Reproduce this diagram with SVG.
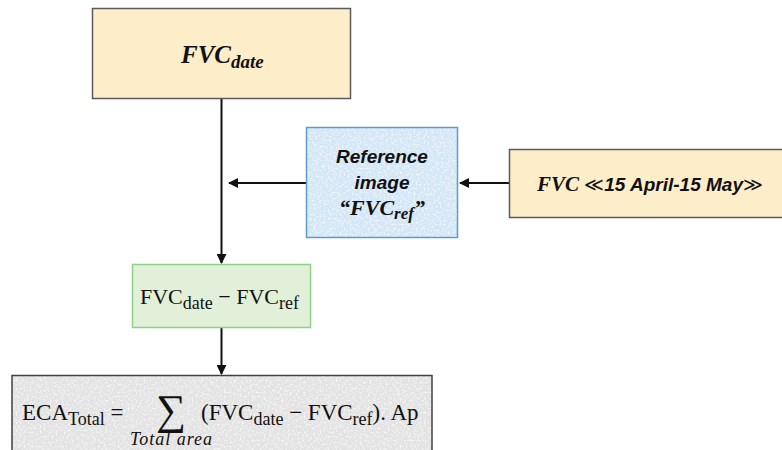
<svg xmlns="http://www.w3.org/2000/svg" width="782" height="450" viewBox="0 0 782 450">
<defs>
<style>
.serif{font-family:"Liberation Serif","DejaVu Serif",serif;fill:#111}
.bi{font-weight:bold;font-style:italic}
.sans{font-family:"Liberation Sans","Open Sans",sans-serif;font-weight:bold;font-style:italic;fill:#111}
.edge{stroke:#111;stroke-width:2;fill:none}
</style>
<marker id="ah" viewBox="0 0 10 10" refX="9" refY="5" markerWidth="5" markerHeight="5" orient="auto">
<path d="M0,0 L10,5 L0,10 z" fill="#111"/>
</marker>
<filter id="tex" x="0" y="0" width="1" height="1">
<feTurbulence type="fractalNoise" baseFrequency="0.5" numOctaves="3" seed="3" result="n"/>
<feColorMatrix in="n" type="matrix" values="0 0 0 0 1  0 0 0 0 1  0 0 0 0 1  0 0 0 -2 1.1" result="w"/>
<feComposite in="w" in2="SourceGraphic" operator="in" result="wc"/>
<feMerge><feMergeNode in="SourceGraphic"/><feMergeNode in="wc"/></feMerge>
</filter>
</defs>

<g id="connectors">
<line class="edge" x1="221.5" y1="99" x2="221.5" y2="263" marker-end="url(#ah)"/>
<line class="edge" x1="306" y1="183" x2="229" y2="183" marker-end="url(#ah)"/>
<line class="edge" x1="509" y1="183" x2="460" y2="183" marker-end="url(#ah)"/>
<line class="edge" x1="221.5" y1="328" x2="221.5" y2="374" marker-end="url(#ah)"/>
</g>

<g id="node-fvc-date">
<rect x="92.5" y="8.5" width="258" height="90" fill="#fdedc9" stroke="#5a5a5a" stroke-width="1.5"/>
<text class="serif bi" x="181" y="63" font-size="25">FVC<tspan font-size="19" dy="5">date</tspan></text>
</g>

<g id="node-reference">
<rect x="306.5" y="127.5" width="151" height="110" fill="#d3e6f6" filter="url(#tex)"/>
<rect x="306.5" y="127.5" width="151" height="110" fill="none" stroke="#5b9bd5" stroke-width="1.5"/>
<text class="sans" x="382" y="163" font-size="19" text-anchor="middle">Reference</text>
<text class="sans" x="382" y="189" font-size="19" text-anchor="middle">image</text>
<text class="serif bi" x="382" y="215" font-size="22" text-anchor="middle">“FVC<tspan font-size="17" dy="4">ref</tspan><tspan dy="-4">”</tspan></text>
</g>

<g id="node-period">
<rect x="509.5" y="149.5" width="280" height="68" fill="#fdedc9" stroke="#5a5a5a" stroke-width="1.5"/>
<text x="537" y="191" font-size="19"><tspan class="serif bi" font-size="21">FVC </tspan><tspan class="serif" font-size="19">≪</tspan><tspan class="sans">15 April-15 May</tspan><tspan class="serif" font-size="19">≫</tspan></text>
</g>

<g id="node-difference">
<rect x="132.5" y="264.5" width="178" height="63" fill="#e2f0d9" stroke="#8fd08a" stroke-width="1.5"/>
<text class="serif" x="140" y="304" font-size="22">FVC<tspan font-size="18" dy="5">date</tspan><tspan dy="-5"> − FVC</tspan><tspan font-size="18" dy="5">ref</tspan></text>
</g>

<g id="node-eca">
<rect x="12" y="375.5" width="420" height="80" fill="#e2e2e2" filter="url(#tex)"/>
<rect x="12" y="375.5" width="420" height="80" fill="none" stroke="#404040" stroke-width="1.5"/>
<text class="serif" x="22" y="420" font-size="23">ECA<tspan font-size="18" dy="5">Total</tspan><tspan dy="-5"> =</tspan></text>
<text class="serif" x="156" y="424" font-size="42">∑</text>
<text class="serif" x="201" y="420" font-size="23">(FVC<tspan font-size="18" dy="5">date</tspan><tspan dy="-5"> − FVC</tspan><tspan font-size="18" dy="5">ref</tspan><tspan dy="-5">). Ap</tspan></text>
<text class="serif" x="130" y="445" font-size="18" font-style="italic" textLength="82" lengthAdjust="spacing">Total area</text>
</g>
</svg>
